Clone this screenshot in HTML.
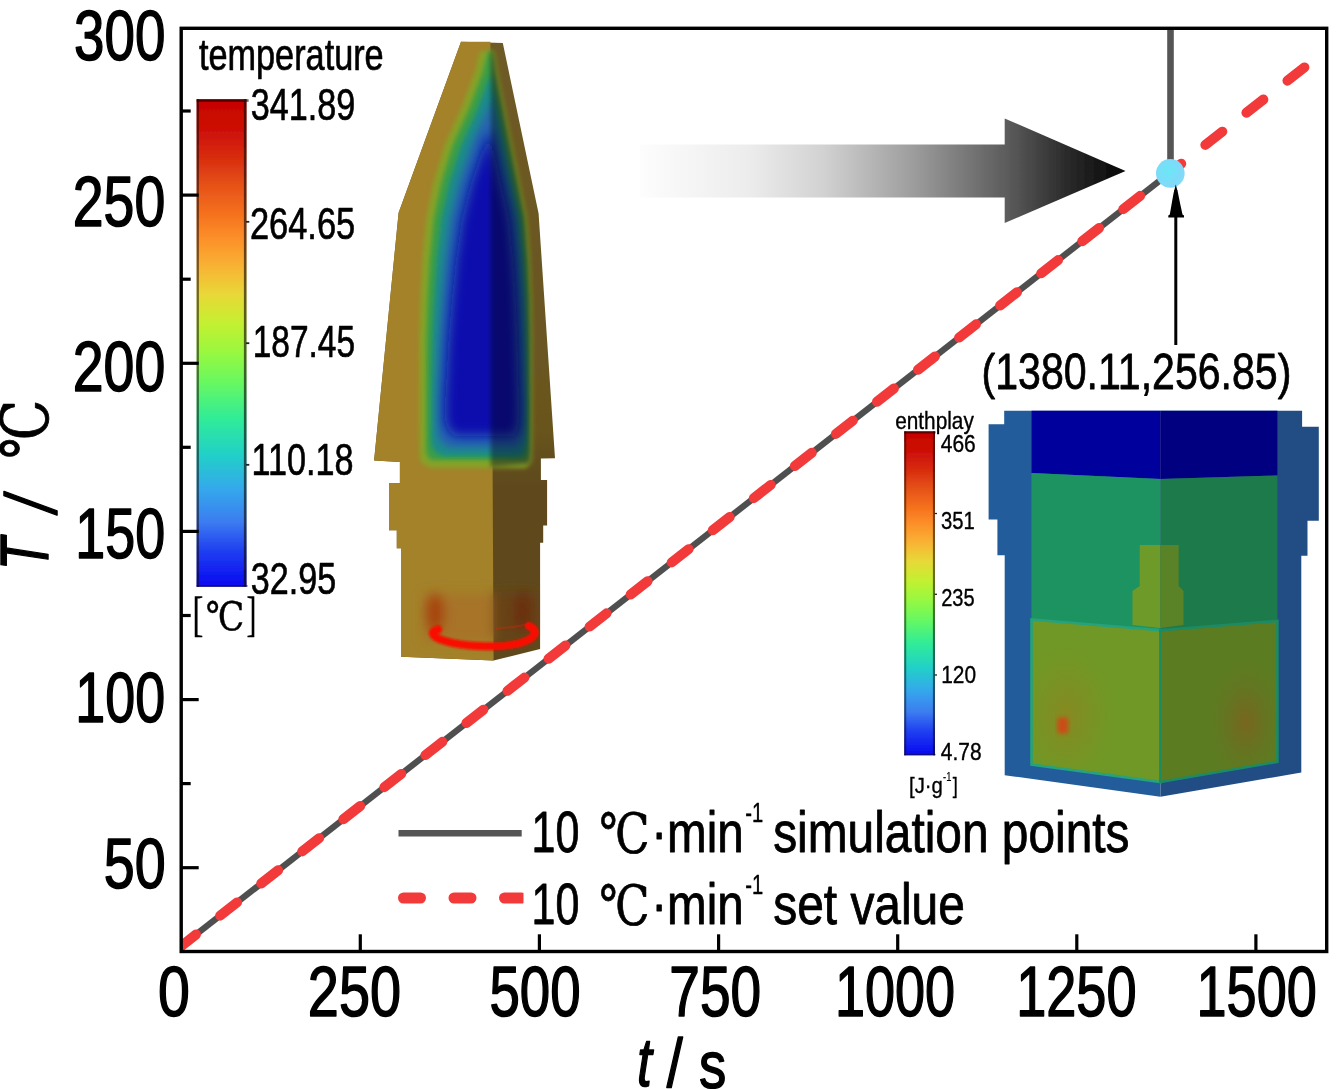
<!DOCTYPE html>
<html lang="en">
<head>
<meta charset="utf-8">
<title>Heating curve: simulation vs set value</title>
<style>
html,body{margin:0;padding:0;background:#fff;}
body{width:1341px;height:1089px;overflow:hidden;}
svg{display:block;}
text{fill:#000;}
</style>
</head>
<body>
<svg width="1341" height="1089" viewBox="0 0 1341 1089">
<defs>
<linearGradient id="jet" x1="0" y1="0" x2="0" y2="1">
 <stop offset="0" stop-color="#c60202"/>
 <stop offset="0.06" stop-color="#cc0e06"/>
 <stop offset="0.12" stop-color="#d82c0e"/>
 <stop offset="0.17" stop-color="#e44e18"/>
 <stop offset="0.23" stop-color="#f46e1c"/>
 <stop offset="0.28" stop-color="#fc8c28"/>
 <stop offset="0.345" stop-color="#f8b434"/>
 <stop offset="0.40" stop-color="#e8d838"/>
 <stop offset="0.46" stop-color="#c4f030"/>
 <stop offset="0.52" stop-color="#98f840"/>
 <stop offset="0.58" stop-color="#68f860"/>
 <stop offset="0.655" stop-color="#30ec98"/>
 <stop offset="0.73" stop-color="#22d0c8"/>
 <stop offset="0.80" stop-color="#34a8ec"/>
 <stop offset="0.867" stop-color="#3c7cf0"/>
 <stop offset="0.925" stop-color="#2040f0"/>
 <stop offset="1" stop-color="#0808f0"/>
</linearGradient>
<linearGradient id="shaft" x1="0" y1="0" x2="1" y2="0">
 <stop offset="0" stop-color="#fdfdfd"/>
 <stop offset="0.3" stop-color="#ececec"/>
 <stop offset="0.5" stop-color="#d2d2d2"/>
 <stop offset="0.75" stop-color="#9c9c9c"/>
 <stop offset="1" stop-color="#5c5c5c"/>
</linearGradient>
<linearGradient id="head" x1="0" y1="0" x2="1" y2="0">
 <stop offset="0" stop-color="#5e5e5e"/>
 <stop offset="0.5" stop-color="#2c2c2c"/>
 <stop offset="1" stop-color="#050505"/>
</linearGradient>
<radialGradient id="dot" cx="0.42" cy="0.42" r="0.6">
 <stop offset="0" stop-color="#6ae8f6"/>
 <stop offset="0.6" stop-color="#7cdcf8"/>
 <stop offset="1" stop-color="#84d8f8"/>
</radialGradient>
<filter id="b1" x="-10%" y="-10%" width="120%" height="120%"><feGaussianBlur stdDeviation="0.7"/></filter>
<filter id="b12" x="-20%" y="-50%" width="140%" height="200%"><feGaussianBlur stdDeviation="1.1"/></filter>
<filter id="b2" x="-20%" y="-20%" width="140%" height="140%"><feGaussianBlur stdDeviation="2"/></filter>
<filter id="b3" x="-50%" y="-50%" width="200%" height="200%"><feGaussianBlur stdDeviation="3.5"/></filter>
<filter id="b5" x="-100%" y="-100%" width="300%" height="300%"><feGaussianBlur stdDeviation="6"/></filter>
<filter id="b8" x="-100%" y="-100%" width="300%" height="300%"><feGaussianBlur stdDeviation="9"/></filter>
<clipPath id="plot"><rect x="181.2" y="28.3" width="1145.5" height="923.2"/></clipPath>
<clipPath id="pl"><polygon points="461.0,41.8 398.6,212.8 374.1,460.5 399.9,462.0 399.9,483.2 389.0,483.2 389.0,530.2 396.8,530.2 396.8,548.2 401.0,548.2 401.0,656.8 493.6,660.5 490.4,41.8"/></clipPath><clipPath id="pr"><polygon points="490.4,41.8 502.8,43.0 538.6,213.6 555.0,458.2 540.9,458.6 540.9,480.1 547.1,480.1 547.1,525.5 543.2,525.5 543.2,542.7 540.1,542.7 540.1,649.0 493.6,660.5"/></clipPath><clipPath id="pall"><polygon points="461.0,41.8 398.6,212.8 374.1,460.5 399.9,462.0 399.9,483.2 389.0,483.2 389.0,530.2 396.8,530.2 396.8,548.2 401.0,548.2 401.0,656.8 493.6,660.5 493.6,660.5 540.1,649.0 540.1,542.7 543.2,542.7 543.2,525.5 547.1,525.5 547.1,480.1 540.9,480.1 540.9,458.6 555.0,458.2 538.6,213.6 502.8,43.0"/></clipPath><linearGradient id="rf" gradientUnits="userSpaceOnUse" x1="0" y1="40" x2="0" y2="660"><stop offset="0" stop-color="#6e5a26"/><stop offset="0.62" stop-color="#69551f"/><stop offset="0.72" stop-color="#5e4a1a"/><stop offset="1" stop-color="#5e4a1a"/></linearGradient><clipPath id="coreR"><polygon points="490.8,50.0 497.4,52.0 497.9,56.0 498.5,60.0 499.0,64.0 499.5,68.0 500.1,72.0 500.9,76.0 501.7,80.0 502.5,84.0 503.3,88.0 504.1,92.0 504.9,96.0 505.7,100.0 506.5,104.0 507.3,108.0 508.1,112.0 508.9,116.0 509.7,120.0 510.5,124.0 511.3,128.0 512.1,132.0 512.9,136.0 513.7,140.0 514.5,144.0 515.3,148.0 516.1,152.0 516.9,156.0 517.7,160.0 518.5,164.0 519.3,168.0 520.1,172.0 520.9,176.0 521.7,180.0 522.5,184.0 523.3,188.0 524.1,192.0 524.9,196.0 525.7,200.0 526.5,204.0 527.3,208.0 528.1,212.0 528.9,216.0 529.5,220.0 529.8,224.0 530.1,228.0 530.4,232.0 530.7,236.0 531.0,240.0 531.3,244.0 531.6,248.0 531.9,252.0 532.2,256.0 532.5,260.0 532.6,264.0 532.8,268.0 533.0,272.0 533.1,276.0 533.2,280.0 533.4,284.0 533.5,288.0 533.7,292.0 533.9,296.0 534.0,300.0 534.0,304.0 534.1,308.0 534.1,312.0 534.2,316.0 534.2,320.0 534.3,324.0 534.4,328.0 534.4,332.0 534.5,336.0 534.5,340.0 534.5,344.0 534.5,348.0 534.5,352.0 534.5,356.0 534.5,360.0 534.5,364.0 534.5,368.0 534.5,372.0 534.5,376.0 534.5,380.0 534.5,384.0 534.5,388.0 534.5,392.0 534.5,396.0 534.5,400.0 534.5,404.0 534.5,408.0 534.5,412.0 534.5,416.0 534.5,420.0 534.5,424.0 534.5,428.0 534.5,432.0 534.5,436.0 534.5,440.0 534.5,444.0 534.5,448.0 534.5,452.0 534.5,456.0 534.4,460.0 533.8,464.0 531.9,468.0 490.8,470.5"/></clipPath><clipPath id="ybL"><polygon points="1033.0,621.0 1160.4,631.5 1160.4,780.5 1033.0,763.0"/></clipPath><clipPath id="ybR"><polygon points="1160.4,631.5 1275.9,622.3 1275.9,760.5 1160.4,780.5"/></clipPath><radialGradient id="glowL"><stop offset="0" stop-color="#8c8620" stop-opacity="0.85"/><stop offset="0.45" stop-color="#868a20" stop-opacity="0.5"/><stop offset="1" stop-color="#7e9022" stop-opacity="0"/></radialGradient><radialGradient id="glowR"><stop offset="0" stop-color="#80601e" stop-opacity="0.8"/><stop offset="0.5" stop-color="#74681e" stop-opacity="0.4"/><stop offset="1" stop-color="#687420" stop-opacity="0"/></radialGradient><clipPath id="lgclip"><rect x="390" y="885" width="133.5" height="26"/></clipPath></defs>
<rect width="1341" height="1089" fill="#fff"/>
<g filter="url(#b1)">
<polygon points="461.0,41.8 398.6,212.8 374.1,460.5 399.9,462.0 399.9,483.2 389.0,483.2 389.0,530.2 396.8,530.2 396.8,548.2 401.0,548.2 401.0,656.8 493.6,660.5 493.6,660.5 540.1,649.0 540.1,542.7 543.2,542.7 543.2,525.5 547.1,525.5 547.1,480.1 540.9,480.1 540.9,458.6 555.0,458.2 538.6,213.6 502.8,43.0" fill="url(#rf)"/>
<polygon points="461.0,41.8 398.6,212.8 374.1,460.5 399.9,462.0 399.9,483.2 389.0,483.2 389.0,530.2 396.8,530.2 396.8,548.2 401.0,548.2 401.0,656.8 493.6,660.5 490.4,41.8" fill="#a3822c"/>
</g>
<g clip-path="url(#pall)">
<g filter="url(#b2)"><polygon points="490.8,50.0 480.1,52.0 478.9,56.0 477.9,60.0 476.9,64.0 475.9,68.0 474.9,72.0 473.4,76.0 471.9,80.0 470.4,84.0 468.9,88.0 467.4,92.0 465.9,96.0 464.4,100.0 462.9,104.0 461.4,108.0 459.6,112.0 457.8,116.0 456.0,120.0 454.2,124.0 452.4,128.0 450.6,132.0 448.8,136.0 447.0,140.0 445.2,144.0 443.9,148.0 442.7,152.0 441.5,156.0 440.3,160.0 439.1,164.0 437.9,168.0 436.7,172.0 435.5,176.0 434.3,180.0 433.3,184.0 432.5,188.0 431.7,192.0 430.9,196.0 430.1,200.0 429.3,204.0 428.5,208.0 427.7,212.0 426.8,216.0 426.2,220.0 425.8,224.0 425.4,228.0 425.1,232.0 424.7,236.0 424.3,240.0 424.0,244.0 423.6,248.0 423.2,252.0 422.9,256.0 422.5,260.0 422.3,264.0 422.1,268.0 421.9,272.0 421.7,276.0 421.5,280.0 421.3,284.0 421.1,288.0 420.9,292.0 420.7,296.0 420.5,300.0 420.4,304.0 420.3,308.0 420.2,312.0 420.1,316.0 419.9,320.0 419.8,324.0 419.7,328.0 419.6,332.0 419.5,336.0 419.4,340.0 419.4,344.0 419.4,348.0 419.4,352.0 419.4,356.0 419.4,360.0 419.4,364.0 419.4,368.0 419.4,372.0 419.4,376.0 419.4,380.0 419.4,384.0 419.4,388.0 419.4,392.0 419.4,396.0 419.4,400.0 419.4,404.0 419.4,408.0 419.4,412.0 419.4,416.0 419.4,420.0 419.4,424.0 419.5,428.0 419.5,432.0 419.5,436.0 419.6,440.0 419.6,444.0 419.6,448.0 419.7,452.0 419.7,456.0 420.4,460.0 422.8,464.0 431.8,468.0 525.4,468.0 530.3,464.0 531.6,460.0 532.0,456.0 532.0,452.0 532.0,448.0 532.0,444.0 532.0,440.0 532.0,436.0 532.0,432.0 532.0,428.0 532.0,424.0 532.0,420.0 532.0,416.0 532.0,412.0 532.0,408.0 532.0,404.0 532.0,400.0 532.0,396.0 532.0,392.0 532.0,388.0 532.0,384.0 532.0,380.0 532.0,376.0 532.0,372.0 532.0,368.0 532.0,364.0 532.0,360.0 532.0,356.0 532.0,352.0 532.0,348.0 532.0,344.0 532.0,340.0 532.0,336.0 531.9,332.0 531.9,328.0 531.8,324.0 531.8,320.0 531.7,316.0 531.6,312.0 531.6,308.0 531.5,304.0 531.5,300.0 531.4,296.0 531.2,292.0 531.0,288.0 530.9,284.0 530.8,280.0 530.6,276.0 530.5,272.0 530.3,268.0 530.1,264.0 530.0,260.0 529.7,256.0 529.4,252.0 529.1,248.0 528.8,244.0 528.5,240.0 528.2,236.0 527.9,232.0 527.6,228.0 527.3,224.0 527.0,220.0 526.4,216.0 525.6,212.0 524.8,208.0 524.0,204.0 523.2,200.0 522.4,196.0 521.6,192.0 520.8,188.0 520.0,184.0 519.2,180.0 518.4,176.0 517.6,172.0 516.8,168.0 516.0,164.0 515.2,160.0 514.4,156.0 513.6,152.0 512.8,148.0 512.0,144.0 511.2,140.0 510.4,136.0 509.6,132.0 508.8,128.0 508.0,124.0 507.2,120.0 506.4,116.0 505.6,112.0 504.8,108.0 504.0,104.0 503.2,100.0 502.4,96.0 501.6,92.0 500.8,88.0 500.0,84.0 499.2,80.0 498.4,76.0 497.6,72.0 497.0,68.0 496.5,64.0 496.0,60.0 495.4,56.0 494.9,52.0" fill="#86a226"/></g>
<g filter="url(#b2)"><polygon points="490.8,50.0 488.0,52.0 486.8,56.0 485.8,60.0 484.8,64.0 483.8,68.0 482.8,72.0 481.3,76.0 479.8,80.0 478.3,84.0 476.8,88.0 475.3,92.0 473.8,96.0 472.3,100.0 470.8,104.0 469.3,108.0 467.5,112.0 465.7,116.0 463.9,120.0 462.1,124.0 460.3,128.0 458.5,132.0 456.7,136.0 454.9,140.0 453.1,144.0 451.8,148.0 450.6,152.0 449.3,156.0 448.1,160.0 446.9,164.0 445.7,168.0 444.5,172.0 443.2,176.0 442.0,180.0 441.0,184.0 440.2,188.0 439.3,192.0 438.5,196.0 437.7,200.0 436.8,204.0 436.0,208.0 435.2,212.0 434.3,216.0 433.7,220.0 433.3,224.0 432.9,228.0 432.5,232.0 432.1,236.0 431.7,240.0 431.3,244.0 430.9,248.0 430.5,252.0 430.1,256.0 429.7,260.0 429.5,264.0 429.3,268.0 429.1,272.0 428.8,276.0 428.6,280.0 428.4,284.0 428.2,288.0 427.9,292.0 427.7,296.0 427.5,300.0 427.4,304.0 427.2,308.0 427.1,312.0 427.0,316.0 426.8,320.0 426.7,324.0 426.6,328.0 426.4,332.0 426.3,336.0 426.2,340.0 426.1,344.0 426.1,348.0 426.1,352.0 426.1,356.0 426.0,360.0 426.0,364.0 426.0,368.0 426.0,372.0 425.9,376.0 425.9,380.0 425.9,384.0 425.9,388.0 425.8,392.0 425.8,396.0 425.8,400.0 425.8,404.0 425.8,408.0 425.8,412.0 425.8,416.0 425.8,420.0 425.8,424.0 425.9,428.0 425.9,432.0 425.9,436.0 426.0,440.0 426.0,444.0 426.0,448.0 426.2,452.0 427.5,456.0 430.8,460.0 526.3,460.0 528.0,456.0 528.7,452.0 528.8,448.0 528.8,444.0 528.8,440.0 528.8,436.0 528.8,432.0 528.8,428.0 528.8,424.0 528.8,420.0 528.8,416.0 528.8,412.0 528.8,408.0 528.8,404.0 528.8,400.0 528.8,396.0 528.8,392.0 528.8,388.0 528.8,384.0 528.7,380.0 528.7,376.0 528.7,372.0 528.7,368.0 528.7,364.0 528.7,360.0 528.7,356.0 528.7,352.0 528.6,348.0 528.6,344.0 528.6,340.0 528.6,336.0 528.5,332.0 528.4,328.0 528.4,324.0 528.3,320.0 528.2,316.0 528.2,312.0 528.1,308.0 528.1,304.0 528.0,300.0 527.8,296.0 527.7,292.0 527.5,288.0 527.4,284.0 527.2,280.0 527.0,276.0 526.9,272.0 526.7,268.0 526.5,264.0 526.4,260.0 526.1,256.0 525.8,252.0 525.4,248.0 525.1,244.0 524.8,240.0 524.5,236.0 524.2,232.0 523.9,228.0 523.6,224.0 523.3,220.0 522.6,216.0 521.8,212.0 521.0,208.0 520.2,204.0 519.4,200.0 518.6,196.0 517.8,192.0 517.0,188.0 516.1,184.0 515.3,180.0 514.5,176.0 513.7,172.0 512.9,168.0 512.1,164.0 511.3,160.0 510.4,156.0 509.6,152.0 508.8,148.0 508.0,144.0 507.2,140.0 506.4,136.0 505.6,132.0 504.8,128.0 504.0,124.0 503.2,120.0 502.4,116.0 501.6,112.0 500.8,108.0 500.0,104.0 499.2,100.0 498.4,96.0 497.6,92.0 496.8,88.0 496.0,84.0 495.2,80.0 494.4,76.0 493.6,72.0 493.1,68.0 492.5,64.0 492.0,60.0 491.5,56.0" fill="#3a9e46"/></g>
<g filter="url(#b2)"><polygon points="490.8,74.0 489.7,76.0 488.2,80.0 486.7,84.0 485.2,88.0 483.7,92.0 482.2,96.0 480.7,100.0 479.2,104.0 477.7,108.0 476.0,112.0 474.2,116.0 472.4,120.0 470.6,124.0 468.8,128.0 467.0,132.0 465.2,136.0 463.4,140.0 461.6,144.0 460.2,148.0 459.0,152.0 457.7,156.0 456.4,160.0 455.2,164.0 453.9,168.0 452.6,172.0 451.3,176.0 450.1,180.0 449.0,184.0 448.1,188.0 447.2,192.0 446.4,196.0 445.5,200.0 444.6,204.0 443.7,208.0 442.8,212.0 441.9,216.0 441.2,220.0 440.8,224.0 440.3,228.0 439.9,232.0 439.4,236.0 439.0,240.0 438.5,244.0 438.1,248.0 437.6,252.0 437.2,256.0 436.8,260.0 436.5,264.0 436.2,268.0 435.9,272.0 435.7,276.0 435.4,280.0 435.1,284.0 434.8,288.0 434.6,292.0 434.3,296.0 434.0,300.0 433.8,304.0 433.6,308.0 433.4,312.0 433.3,316.0 433.1,320.0 432.9,324.0 432.7,328.0 432.5,332.0 432.3,336.0 432.1,340.0 432.1,344.0 432.0,348.0 431.9,352.0 431.8,356.0 431.8,360.0 431.7,364.0 431.6,368.0 431.5,372.0 431.5,376.0 431.4,380.0 431.3,384.0 431.2,388.0 431.2,392.0 431.1,396.0 431.0,400.0 431.0,404.0 431.0,408.0 431.0,412.0 431.0,416.0 431.0,420.0 431.0,424.0 431.1,428.0 431.1,432.0 431.1,436.0 431.2,440.0 431.4,444.0 432.7,448.0 435.5,452.0 442.3,456.0 520.1,456.0 523.9,452.0 525.4,448.0 526.1,444.0 526.2,440.0 526.2,436.0 526.2,432.0 526.2,428.0 526.2,424.0 526.2,420.0 526.2,416.0 526.2,412.0 526.2,408.0 526.2,404.0 526.2,400.0 526.2,396.0 526.1,392.0 526.1,388.0 526.0,384.0 526.0,380.0 526.0,376.0 525.9,372.0 525.9,368.0 525.9,364.0 525.8,360.0 525.8,356.0 525.7,352.0 525.7,348.0 525.7,344.0 525.6,340.0 525.5,336.0 525.5,332.0 525.4,328.0 525.3,324.0 525.2,320.0 525.1,316.0 525.0,312.0 524.9,308.0 524.8,304.0 524.8,300.0 524.6,296.0 524.4,292.0 524.2,288.0 524.0,284.0 523.8,280.0 523.6,276.0 523.4,272.0 523.2,268.0 523.1,264.0 522.9,260.0 522.5,256.0 522.2,252.0 521.9,248.0 521.5,244.0 521.2,240.0 520.8,236.0 520.5,232.0 520.2,228.0 519.8,224.0 519.5,220.0 518.8,216.0 518.0,212.0 517.1,208.0 516.3,204.0 515.5,200.0 514.6,196.0 513.8,192.0 513.0,188.0 512.1,184.0 511.3,180.0 510.5,176.0 509.6,172.0 508.8,168.0 507.9,164.0 507.1,160.0 506.3,156.0 505.4,152.0 504.6,148.0 503.8,144.0 503.0,140.0 502.2,136.0 501.4,132.0 500.6,128.0 499.8,124.0 499.0,120.0 498.2,116.0 497.4,112.0 496.6,108.0 495.8,104.0 495.0,100.0 494.2,96.0 493.4,92.0 492.6,88.0 491.8,84.0" fill="#1d8c88"/></g>
<g filter="url(#b3)"><polygon points="490.8,98.0 490.5,100.0 489.0,104.0 487.5,108.0 485.7,112.0 483.9,116.0 482.1,120.0 480.3,124.0 478.5,128.0 476.7,132.0 474.9,136.0 473.1,140.0 471.3,144.0 470.0,148.0 468.7,152.0 467.4,156.0 466.0,160.0 464.7,164.0 463.4,168.0 462.0,172.0 460.7,176.0 459.4,180.0 458.2,184.0 457.3,188.0 456.4,192.0 455.4,196.0 454.5,200.0 453.5,204.0 452.6,208.0 451.6,212.0 450.7,216.0 449.9,220.0 449.4,224.0 448.9,228.0 448.4,232.0 447.9,236.0 447.4,240.0 446.9,244.0 446.4,248.0 445.9,252.0 445.4,256.0 444.9,260.0 444.5,264.0 444.2,268.0 443.9,272.0 443.5,276.0 443.2,280.0 442.8,284.0 442.5,288.0 442.2,292.0 441.8,296.0 441.5,300.0 441.3,304.0 441.0,308.0 440.8,312.0 440.5,316.0 440.3,320.0 440.0,324.0 439.8,328.0 439.5,332.0 439.3,336.0 439.0,340.0 438.9,344.0 438.8,348.0 438.6,352.0 438.5,356.0 438.4,360.0 438.2,364.0 438.1,368.0 438.0,372.0 437.8,376.0 437.7,380.0 437.5,384.0 437.4,388.0 437.3,392.0 437.1,396.0 437.0,400.0 437.0,404.0 437.0,408.0 437.0,412.0 437.0,416.0 437.0,420.0 437.0,424.0 437.1,428.0 437.1,432.0 437.6,436.0 439.2,440.0 442.2,444.0 448.6,448.0 517.0,448.0 520.4,444.0 522.1,440.0 522.9,436.0 523.2,432.0 523.2,428.0 523.2,424.0 523.2,420.0 523.2,416.0 523.2,412.0 523.2,408.0 523.2,404.0 523.2,400.0 523.1,396.0 523.1,392.0 523.0,388.0 522.9,384.0 522.9,380.0 522.8,376.0 522.7,372.0 522.7,368.0 522.6,364.0 522.5,360.0 522.5,356.0 522.4,352.0 522.3,348.0 522.2,344.0 522.2,340.0 522.1,336.0 521.9,332.0 521.8,328.0 521.7,324.0 521.6,320.0 521.5,316.0 521.4,312.0 521.2,308.0 521.1,304.0 521.0,300.0 520.8,296.0 520.6,292.0 520.3,288.0 520.1,284.0 519.9,280.0 519.7,276.0 519.5,272.0 519.3,268.0 519.0,264.0 518.8,260.0 518.5,256.0 518.1,252.0 517.7,248.0 517.3,244.0 517.0,240.0 516.6,236.0 516.2,232.0 515.9,228.0 515.5,224.0 515.1,220.0 514.4,216.0 513.6,212.0 512.7,208.0 511.8,204.0 511.0,200.0 510.1,196.0 509.3,192.0 508.4,188.0 507.5,184.0 506.7,180.0 505.8,176.0 504.9,172.0 504.0,168.0 503.2,164.0 502.3,160.0 501.4,156.0 500.6,152.0 499.7,148.0 498.9,144.0 498.1,140.0 497.3,136.0 496.5,132.0 495.7,128.0 494.9,124.0 494.1,120.0 493.3,116.0 492.5,112.0 491.7,108.0" fill="#2766b0"/></g>
<g filter="url(#b5)"><polygon points="490.8,130.0 489.7,132.0 487.9,136.0 486.1,140.0 484.3,144.0 483.0,148.0 481.7,152.0 480.2,156.0 478.8,160.0 477.4,164.0 476.0,168.0 474.6,172.0 473.2,176.0 471.8,180.0 470.6,184.0 469.5,188.0 468.5,192.0 467.5,196.0 466.5,200.0 465.4,204.0 464.4,208.0 463.4,212.0 462.4,216.0 461.5,220.0 460.9,224.0 460.3,228.0 459.7,232.0 459.2,236.0 458.6,240.0 458.0,244.0 457.4,248.0 456.8,252.0 456.2,256.0 455.7,260.0 455.2,264.0 454.8,268.0 454.4,272.0 454.0,276.0 453.6,280.0 453.2,284.0 452.7,288.0 452.3,292.0 451.9,296.0 451.5,300.0 451.2,304.0 450.8,308.0 450.5,312.0 450.2,316.0 449.9,320.0 449.5,324.0 449.2,328.0 448.9,332.0 448.6,336.0 448.2,340.0 448.0,344.0 447.8,348.0 447.6,352.0 447.4,356.0 447.2,360.0 446.9,364.0 446.7,368.0 446.5,372.0 446.3,376.0 446.1,380.0 445.9,384.0 445.6,388.0 445.4,392.0 445.2,396.0 445.0,400.0 445.0,404.0 445.0,408.0 445.0,412.0 445.0,416.0 445.0,420.0 445.7,424.0 447.3,428.0 450.0,432.0 454.7,436.0 514.0,436.0 516.5,432.0 518.0,428.0 518.8,424.0 519.2,420.0 519.2,416.0 519.2,412.0 519.2,408.0 519.2,404.0 519.2,400.0 519.1,396.0 519.0,392.0 518.9,388.0 518.8,384.0 518.7,380.0 518.6,376.0 518.4,372.0 518.3,368.0 518.2,364.0 518.1,360.0 518.0,356.0 517.9,352.0 517.8,348.0 517.7,344.0 517.6,340.0 517.4,336.0 517.3,332.0 517.1,328.0 516.9,324.0 516.8,320.0 516.6,316.0 516.5,312.0 516.3,308.0 516.2,304.0 516.0,300.0 515.7,296.0 515.5,292.0 515.2,288.0 515.0,284.0 514.7,280.0 514.5,276.0 514.2,272.0 513.9,268.0 513.7,264.0 513.4,260.0 513.0,256.0 512.6,252.0 512.2,248.0 511.8,244.0 511.4,240.0 511.0,236.0 510.6,232.0 510.2,228.0 509.7,224.0 509.3,220.0 508.6,216.0 507.7,212.0 506.8,208.0 505.9,204.0 505.0,200.0 504.1,196.0 503.2,192.0 502.3,188.0 501.4,184.0 500.5,180.0 499.5,176.0 498.6,172.0 497.7,168.0 496.8,164.0 495.9,160.0 495.0,156.0 494.1,152.0 493.2,148.0 492.4,144.0 491.6,140.0" fill="#0808ae"/></g>
<g filter="url(#b2)"><polygon points="490.8,50.0 493.9,52.0 494.4,56.0 495.0,60.0 495.5,64.0 496.0,68.0 496.6,72.0 497.4,76.0 498.2,80.0 499.0,84.0 499.8,88.0 500.6,92.0 501.4,96.0 502.2,100.0 503.0,104.0 503.8,108.0 504.6,112.0 505.4,116.0 506.2,120.0 507.0,124.0 507.8,128.0 508.6,132.0 509.4,136.0 510.2,140.0 511.0,144.0 511.8,148.0 512.6,152.0 513.4,156.0 514.2,160.0 515.0,164.0 515.8,168.0 516.6,172.0 517.4,176.0 518.2,180.0 519.0,184.0 519.8,188.0 520.6,192.0 521.4,196.0 522.2,200.0 523.0,204.0 523.8,208.0 524.6,212.0 525.4,216.0 526.0,220.0 526.3,224.0 526.6,228.0 526.9,232.0 527.2,236.0 527.5,240.0 527.8,244.0 528.1,248.0 528.4,252.0 528.7,256.0 529.0,260.0 529.1,264.0 529.3,268.0 529.5,272.0 529.6,276.0 529.8,280.0 529.9,284.0 530.0,288.0 530.2,292.0 530.4,296.0 530.5,300.0 530.5,304.0 530.6,308.0 530.6,312.0 530.7,316.0 530.8,320.0 530.8,324.0 530.9,328.0 530.9,332.0 531.0,336.0 531.0,340.0 531.0,344.0 531.0,348.0 531.0,352.0 531.0,356.0 531.0,360.0 531.0,364.0 531.0,368.0 531.0,372.0 531.0,376.0 531.0,380.0 531.0,384.0 531.0,388.0 531.0,392.0 531.0,396.0 531.0,400.0 531.0,404.0 531.0,408.0 531.0,412.0 531.0,416.0 531.0,420.0 531.0,424.0 531.0,428.0 531.0,432.0 531.0,436.0 531.0,440.0 531.0,444.0 531.0,448.0 531.0,452.0 531.0,456.0 530.4,460.0 528.8,464.0 490.8,467.0" fill="#00001c" opacity="0.42"/></g>
</g>
<g clip-path="url(#pall)">
<g filter="url(#b5)">
<rect x="424" y="594" width="68" height="48" fill="#aa6a24" opacity="0.6"/>
<rect x="493" y="592" width="46" height="46" fill="#6c3e14" opacity="0.65"/>
<ellipse cx="435" cy="613" rx="9" ry="20" fill="#a8400e" opacity="0.95"/>
<ellipse cx="523" cy="611" rx="9" ry="20" fill="#6a300c" opacity="0.9"/>
</g>
<g filter="url(#b1)" opacity="0.35"><path d="M496,628.5 C508,628 520,626.5 527,624" fill="none" stroke="#e02010" stroke-width="2"/></g>
<g filter="url(#b12)">
<path d="M438,629.5 C430,631 431,637 445,641 C465,647.5 505,648 522,642.5 C536,638 539,630.5 529,626" fill="none" stroke="#f80e06" stroke-width="8" stroke-linecap="round"/>
</g></g>
<g filter="url(#b1)">
<rect x="196.6" y="99.2" width="49.9" height="487.6" fill="url(#jet)"/>
<rect x="196.6" y="99.2" width="2.3" height="487.6" fill="#100808" opacity="0.55"/>
<rect x="243.9" y="99.2" width="2.6" height="487.6" fill="#100808" opacity="0.62"/>
<rect x="196.6" y="99.2" width="52" height="2.6" fill="#100808" opacity="0.6"/>
<rect x="196.6" y="585" width="51" height="1.8" fill="#100808" opacity="0.5"/>
</g>
<line x1="246" y1="221.8" x2="249.3" y2="221.8" stroke="#222" stroke-width="1.8"/>
<line x1="246" y1="343.2" x2="249.3" y2="343.2" stroke="#222" stroke-width="1.8"/>
<line x1="246" y1="464.8" x2="249.3" y2="464.8" stroke="#222" stroke-width="1.8"/>
<text transform="translate(198.95 70.27) scale(0.7865 1)" font-family='"Liberation Sans", sans-serif' font-size="43.57" text-anchor="start"  stroke="#000" stroke-width="0.67" stroke-linejoin="round">temperature</text>
<text transform="translate(250.80 120.47) scale(0.7848 1)" font-family='"Liberation Sans", sans-serif' font-size="43.57" text-anchor="start"  stroke="#000" stroke-width="0.67" stroke-linejoin="round">341.89</text>
<text transform="translate(249.95 238.77) scale(0.7900 1)" font-family='"Liberation Sans", sans-serif' font-size="43.57" text-anchor="start"  stroke="#000" stroke-width="0.67" stroke-linejoin="round">264.65</text>
<text transform="translate(252.65 357.27) scale(0.7694 1)" font-family='"Liberation Sans", sans-serif' font-size="43.57" text-anchor="start"  stroke="#000" stroke-width="0.67" stroke-linejoin="round">187.45</text>
<text transform="translate(251.50 475.27) scale(0.7848 1)" font-family='"Liberation Sans", sans-serif' font-size="43.57" text-anchor="start"  stroke="#000" stroke-width="0.67" stroke-linejoin="round">110.18</text>
<text transform="translate(250.70 593.67) scale(0.7840 1)" font-family='"Liberation Sans", sans-serif' font-size="43.57" text-anchor="start"  stroke="#000" stroke-width="0.67" stroke-linejoin="round">32.95</text>
<text transform="translate(192.47 630.05) scale(0.6774 1)" font-family='"Liberation Serif", serif' font-size="48.1" text-anchor="start"  stroke="#000" stroke-width="0.29" stroke-linejoin="round">[</text>
<text transform="translate(205.84 629.76) scale(0.8764 1)" font-family='"Liberation Serif", "DejaVu Serif", "Noto Serif CJK SC", serif' font-size="39.33" text-anchor="start"  stroke="#000" stroke-width="0.48" stroke-linejoin="round">℃</text>
<text transform="translate(246.48 630.05) scale(0.6161 1)" font-family='"Liberation Serif", serif' font-size="48.1" text-anchor="start"  stroke="#000" stroke-width="0.29" stroke-linejoin="round">]</text>
<g filter="url(#b1)">
<polygon points="1160.4,410.7 1004.2,410.7 1004.2,424.2 988.6,424.2 988.6,519.5 997.4,519.5 997.4,555.2 1004.7,555.2 1004.7,775.2 1160.4,796.7" fill="#245c9a"/>
<polygon points="1160.4,410.7 1302.1,410.7 1302.1,426.8 1318.8,426.8 1318.8,520.8 1307.5,520.8 1307.5,555.7 1301.3,555.7 1301.3,772.5 1160.4,796.7" fill="#204e84"/>
<polygon points="1031.5,410.7 1160.4,410.7 1160.4,479.0 1031.5,473.0" fill="#04049c"/>
<polygon points="1160.4,410.7 1277.4,410.7 1277.4,475.5 1160.4,479.0" fill="#030380"/>
<polygon points="1031.5,473.0 1160.4,479.0 1160.4,631.0 1031.5,620.0" fill="#1f9360"/>
<polygon points="1160.4,479.0 1277.4,475.5 1277.4,621.5 1160.4,631.0" fill="#1b7a4c"/>
<polygon points="1139.7,545.0 1160.4,545.0 1160.4,628.0 1132.5,625.0 1132.5,591.0 1139.7,586.0" fill="#6e9a2a"/>
<polygon points="1160.4,545.0 1178.7,545.0 1178.7,586.0 1183.5,591.0 1183.5,625.0 1160.4,628.0" fill="#5a8228"/>
<polygon points="1031.5,619.5 1160.4,630.3 1160.4,782.0 1031.5,764.5" fill="#6f9826" stroke="#25a27c" stroke-width="2.6"/>
<polygon points="1160.4,630.3 1277.4,620.9 1277.4,761.8 1160.4,782.0" fill="#5b7c22" stroke="#1f8a64" stroke-width="2.6"/>
</g>
<g clip-path="url(#ybL)">
<ellipse cx="1066" cy="716" rx="48" ry="70" fill="url(#glowL)"/>
<g filter="url(#b2)"><rect x="1057.5" y="717.5" width="10.5" height="16" rx="2" fill="#cc4c18"/></g>
</g>
<g clip-path="url(#ybR)">
<ellipse cx="1246" cy="722" rx="40" ry="62" fill="url(#glowR)"/>
</g>
<g filter="url(#b1)"><line x1="1160.4" y1="411" x2="1160.4" y2="479" stroke="#0808b4" stroke-width="2.5"/><line x1="1160.4" y1="479" x2="1160.4" y2="545" stroke="#239a62" stroke-width="2"/><line x1="1160.4" y1="545" x2="1160.4" y2="781" stroke="#78aa2a" stroke-width="3"/><line x1="1160.4" y1="783" x2="1160.4" y2="796" stroke="#2a6cb4" stroke-width="3"/></g>
<g filter="url(#b1)">
<rect x="904.2" y="431.3" width="30.8" height="324" fill="url(#jet)"/>
<rect x="904.2" y="431.3" width="2" height="324" fill="#100808" opacity="0.5"/>
<rect x="932.9" y="431.3" width="2.1" height="324" fill="#100808" opacity="0.55"/>
<rect x="904.2" y="431.3" width="31.5" height="2.2" fill="#100808" opacity="0.55"/>
<rect x="904.2" y="753.8" width="31.5" height="1.5" fill="#100808" opacity="0.45"/>
</g>
<line x1="934.5" y1="513.5" x2="937" y2="513.5" stroke="#222" stroke-width="1.3"/>
<line x1="934.5" y1="594.3" x2="937" y2="594.3" stroke="#222" stroke-width="1.3"/>
<line x1="934.5" y1="675" x2="937" y2="675" stroke="#222" stroke-width="1.3"/>
<text transform="translate(895.21 428.51) scale(0.8602 1)" font-family='"Liberation Sans", sans-serif' font-size="24.19" text-anchor="start"  stroke="#000" stroke-width="0.37" stroke-linejoin="round">enthplay</text>
<text transform="translate(940.73 452.11) scale(0.8510 1)" font-family='"Liberation Sans", sans-serif' font-size="24.68" text-anchor="start"  stroke="#000" stroke-width="0.38" stroke-linejoin="round">466</text>
<text transform="translate(940.94 528.81) scale(0.8207 1)" font-family='"Liberation Sans", sans-serif' font-size="24.68" text-anchor="start"  stroke="#000" stroke-width="0.38" stroke-linejoin="round">351</text>
<text transform="translate(941.15 605.91) scale(0.8130 1)" font-family='"Liberation Sans", sans-serif' font-size="24.68" text-anchor="start"  stroke="#000" stroke-width="0.38" stroke-linejoin="round">235</text>
<text transform="translate(941.18 683.11) scale(0.8470 1)" font-family='"Liberation Sans", sans-serif' font-size="24.68" text-anchor="start"  stroke="#000" stroke-width="0.38" stroke-linejoin="round">120</text>
<text transform="translate(940.83 759.51) scale(0.8493 1)" font-family='"Liberation Sans", sans-serif' font-size="24.68" text-anchor="start"  stroke="#000" stroke-width="0.38" stroke-linejoin="round">4.78</text>
<text transform="translate(909.02 792.53) scale(0.9205 1)" font-family='"Liberation Sans", sans-serif' font-size="22.03" text-anchor="start"  stroke="#000" stroke-width="0.34" stroke-linejoin="round">[J·g</text>
<text transform="translate(943.05 781.21) scale(0.7656 1)" font-family='"Liberation Sans", sans-serif' font-size="12.24" text-anchor="start"  stroke="#000" stroke-width="0.19" stroke-linejoin="round">-1</text>
<text transform="translate(952.65 792.53) scale(0.8217 1)" font-family='"Liberation Sans", sans-serif' font-size="22.03" text-anchor="start"  stroke="#000" stroke-width="0.34" stroke-linejoin="round">]</text>
<g filter="url(#b1)">
<rect x="640" y="144.5" width="366" height="53" fill="url(#shaft)"/>
<polygon points="1004.7,118.5 1125.5,171 1004.7,223" fill="url(#head)"/>
</g>
<g clip-path="url(#plot)">
<line x1="177.2" y1="949.23" x2="1170.2" y2="172.41" stroke="#4f4f4f" stroke-width="6.3"/>
<line x1="1170.5" y1="28.3" x2="1170.5" y2="172.41" stroke="#555" stroke-width="6.6"/>
<line x1="179.09" y1="947.75" x2="1309.5" y2="63.43" stroke="#f23a3a" stroke-width="10" stroke-linecap="round" stroke-dasharray="21.50 30.62"/>
</g>
<circle cx="1170.3" cy="173.4" r="14.3" fill="url(#dot)"/>
<line x1="1175.8" y1="345" x2="1175.8" y2="190" stroke="#000" stroke-width="3"/>
<polygon points="1175.8,184.5 1178,193 1180,203 1182.5,214.5 1184,215.5 1184,217.6 1168.3,217.6 1168.3,215.5 1169.8,214.5 1171.8,203 1173.6,193" fill="#000"/>
<text transform="translate(981.54 389.01) scale(0.8146 1)" font-family='"Liberation Sans", sans-serif' font-size="50.43" text-anchor="start"  stroke="#000" stroke-width="0.77" stroke-linejoin="round">(1380.11,256.85)</text>
<rect x="181.2" y="28.3" width="1145.5" height="923.2" fill="none" stroke="#000" stroke-width="3.4"/>
<line x1="181.2" y1="867.7" x2="198.7" y2="867.7" stroke="#000" stroke-width="3.2"/>
<line x1="181.2" y1="699.6" x2="198.7" y2="699.6" stroke="#000" stroke-width="3.2"/>
<line x1="181.2" y1="531.4" x2="198.7" y2="531.4" stroke="#000" stroke-width="3.2"/>
<line x1="181.2" y1="363.3" x2="198.7" y2="363.3" stroke="#000" stroke-width="3.2"/>
<line x1="181.2" y1="195.1" x2="198.7" y2="195.1" stroke="#000" stroke-width="3.2"/>
<line x1="181.2" y1="783.6" x2="190.7" y2="783.6" stroke="#000" stroke-width="3.2"/>
<line x1="181.2" y1="615.5" x2="190.7" y2="615.5" stroke="#000" stroke-width="3.2"/>
<line x1="181.2" y1="447.3" x2="190.7" y2="447.3" stroke="#000" stroke-width="3.2"/>
<line x1="181.2" y1="279.2" x2="190.7" y2="279.2" stroke="#000" stroke-width="3.2"/>
<line x1="181.2" y1="111.0" x2="190.7" y2="111.0" stroke="#000" stroke-width="3.2"/>
<line x1="360.3" y1="951.5" x2="360.3" y2="934.3" stroke="#000" stroke-width="3.2"/>
<line x1="539.4" y1="951.5" x2="539.4" y2="934.3" stroke="#000" stroke-width="3.2"/>
<line x1="718.6" y1="951.5" x2="718.6" y2="934.3" stroke="#000" stroke-width="3.2"/>
<line x1="897.7" y1="951.5" x2="897.7" y2="934.3" stroke="#000" stroke-width="3.2"/>
<line x1="1076.8" y1="951.5" x2="1076.8" y2="934.3" stroke="#000" stroke-width="3.2"/>
<line x1="1255.9" y1="951.5" x2="1255.9" y2="934.3" stroke="#000" stroke-width="3.2"/>
<text transform="translate(74.11 60.35) scale(0.7871 1)" font-family='"Liberation Sans", sans-serif' font-size="69.51" text-anchor="start"  stroke="#000" stroke-width="1.50" stroke-linejoin="round">300</text>
<text transform="translate(72.73 226.45) scale(0.7976 1)" font-family='"Liberation Sans", sans-serif' font-size="69.51" text-anchor="start"  stroke="#000" stroke-width="1.50" stroke-linejoin="round">250</text>
<text transform="translate(72.73 391.15) scale(0.7976 1)" font-family='"Liberation Sans", sans-serif' font-size="69.51" text-anchor="start"  stroke="#000" stroke-width="1.50" stroke-linejoin="round">200</text>
<text transform="translate(75.36 557.55) scale(0.7743 1)" font-family='"Liberation Sans", sans-serif' font-size="69.51" text-anchor="start"  stroke="#000" stroke-width="1.50" stroke-linejoin="round">150</text>
<text transform="translate(75.36 721.85) scale(0.7743 1)" font-family='"Liberation Sans", sans-serif' font-size="69.51" text-anchor="start"  stroke="#000" stroke-width="1.50" stroke-linejoin="round">100</text>
<text transform="translate(103.78 888.45) scale(0.8006 1)" font-family='"Liberation Sans", sans-serif' font-size="69.51" text-anchor="start"  stroke="#000" stroke-width="1.50" stroke-linejoin="round">50</text>
<text transform="translate(158.01 1015.75) scale(0.8237 1)" font-family='"Liberation Sans", sans-serif' font-size="69.51" text-anchor="start"  stroke="#000" stroke-width="1.50" stroke-linejoin="round">0</text>
<text transform="translate(307.81 1015.75) scale(0.8040 1)" font-family='"Liberation Sans", sans-serif' font-size="69.51" text-anchor="start"  stroke="#000" stroke-width="1.50" stroke-linejoin="round">250</text>
<text transform="translate(489.42 1015.75) scale(0.7862 1)" font-family='"Liberation Sans", sans-serif' font-size="69.51" text-anchor="start"  stroke="#000" stroke-width="1.50" stroke-linejoin="round">500</text>
<text transform="translate(669.35 1015.75) scale(0.7921 1)" font-family='"Liberation Sans", sans-serif' font-size="69.51" text-anchor="start"  stroke="#000" stroke-width="1.50" stroke-linejoin="round">750</text>
<text transform="translate(834.95 1015.75) scale(0.7772 1)" font-family='"Liberation Sans", sans-serif' font-size="69.51" text-anchor="start"  stroke="#000" stroke-width="1.50" stroke-linejoin="round">1000</text>
<text transform="translate(1016.14 1015.75) scale(0.7786 1)" font-family='"Liberation Sans", sans-serif' font-size="69.51" text-anchor="start"  stroke="#000" stroke-width="1.50" stroke-linejoin="round">1250</text>
<text transform="translate(1196.55 1015.75) scale(0.7772 1)" font-family='"Liberation Sans", sans-serif' font-size="69.51" text-anchor="start"  stroke="#000" stroke-width="1.50" stroke-linejoin="round">1500</text>
<text transform="translate(637.09 1086.27) scale(0.7843 1)" font-family='"Liberation Sans", sans-serif' font-size="67.96" text-anchor="start" style="font-style:italic" stroke="#000" stroke-width="1.47" stroke-linejoin="round">t</text>
<text transform="translate(666.79 1086.77) scale(0.8467 1)" font-family='"Liberation Sans", sans-serif' font-size="67.96" text-anchor="start"  stroke="#000" stroke-width="1.47" stroke-linejoin="round">/</text>
<text transform="translate(699.04 1087.78) scale(0.8147 1)" font-family='"Liberation Sans", sans-serif' font-size="66.99" text-anchor="start"  stroke="#000" stroke-width="1.45" stroke-linejoin="round">s</text>
<text transform="translate(48.47 570.31) rotate(-90) scale(0.7846 1)" font-family='"Liberation Sans", sans-serif' font-size="67.96" text-anchor="start" style="font-style:italic" stroke="#000" stroke-width="1.47" stroke-linejoin="round">T</text>
<text transform="translate(56.71 511.94) rotate(-90) scale(0.7828 1)" font-family='"Liberation Sans", sans-serif' font-size="72.81" text-anchor="start" style="font-style:italic" stroke="#000" stroke-width="1.58" stroke-linejoin="round">/</text>
<text transform="translate(48.40 459.07) rotate(-90) scale(0.8085 1)" font-family='"Liberation Serif", "DejaVu Serif", "Noto Serif CJK SC", serif' font-size="65.59" text-anchor="start"  stroke="#000" stroke-width="0.80" stroke-linejoin="round">℃</text>
<line x1="398.5" y1="833.3" x2="521.7" y2="833.3" stroke="#555" stroke-width="6.5"/>
<line x1="403.5" y1="898" x2="530" y2="898" stroke="#f23a3a" stroke-width="11" stroke-linecap="round" stroke-dasharray="17 33.5" clip-path="url(#lgclip)"/>
<text transform="translate(531.62 852.17) scale(0.7572 1)" font-family='"Liberation Sans", sans-serif' font-size="56.79" text-anchor="start"  stroke="#000" stroke-width="0.87" stroke-linejoin="round">10</text>
<text transform="translate(599.25 853.26) scale(0.8115 1)" font-family='"Liberation Serif", "DejaVu Serif", "Noto Serif CJK SC", serif' font-size="55.46" text-anchor="start"  stroke="#000" stroke-width="0.68" stroke-linejoin="round">℃</text>
<text transform="translate(651.24 852.17) scale(0.8374 1)" font-family='"Liberation Sans", sans-serif' font-size="56.79" text-anchor="start"  stroke="#000" stroke-width="0.87" stroke-linejoin="round">·min</text>
<text transform="translate(745.16 821.79) scale(0.7424 1)" font-family='"Liberation Sans", sans-serif' font-size="27.22" text-anchor="start"  stroke="#000" stroke-width="0.42" stroke-linejoin="round">-1</text>
<text transform="translate(773.21 852.17) scale(0.8422 1)" font-family='"Liberation Sans", sans-serif' font-size="56.79" text-anchor="start"  stroke="#000" stroke-width="0.87" stroke-linejoin="round">simulation points</text>
<text transform="translate(531.62 924.07) scale(0.7572 1)" font-family='"Liberation Sans", sans-serif' font-size="56.79" text-anchor="start"  stroke="#000" stroke-width="0.87" stroke-linejoin="round">10</text>
<text transform="translate(599.25 925.16) scale(0.8115 1)" font-family='"Liberation Serif", "DejaVu Serif", "Noto Serif CJK SC", serif' font-size="55.46" text-anchor="start"  stroke="#000" stroke-width="0.68" stroke-linejoin="round">℃</text>
<text transform="translate(651.24 924.07) scale(0.8374 1)" font-family='"Liberation Sans", sans-serif' font-size="56.79" text-anchor="start"  stroke="#000" stroke-width="0.87" stroke-linejoin="round">·min</text>
<text transform="translate(745.16 893.69) scale(0.7424 1)" font-family='"Liberation Sans", sans-serif' font-size="27.22" text-anchor="start"  stroke="#000" stroke-width="0.42" stroke-linejoin="round">-1</text>
<text transform="translate(773.21 924.07) scale(0.8437 1)" font-family='"Liberation Sans", sans-serif' font-size="56.79" text-anchor="start"  stroke="#000" stroke-width="0.87" stroke-linejoin="round">set value</text>
</svg>
</body>
</html>
